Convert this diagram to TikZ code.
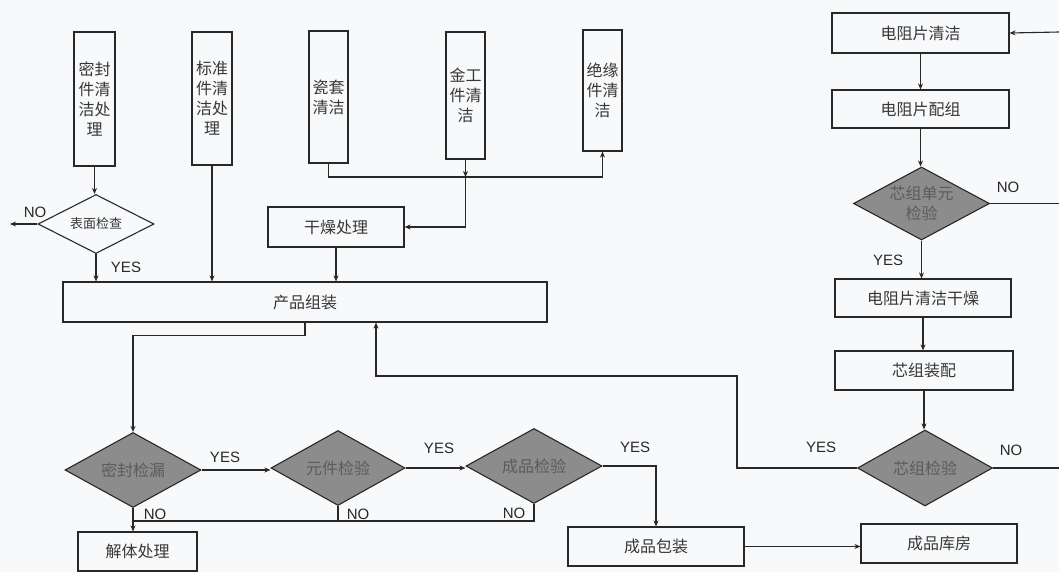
\documentclass[tikz,border=0pt]{standalone}
\usepackage{fontspec}
\setmainfont{Liberation Sans}
\newfontfamily\cjk{Noto Sans CJK SC}
\usetikzlibrary{shapes.geometric,arrows.meta}
\definecolor{bg}{RGB}{248,249,251}
\definecolor{ln}{RGB}{40,40,40}
\definecolor{dfill}{RGB}{140,140,140}
\definecolor{dtxt}{RGB}{92,92,92}
\definecolor{btxt}{RGB}{55,55,55}
\begin{document}
\begin{tikzpicture}[x=1pt,y=-1pt,
  box/.style={draw=ln,line width=1.1pt,inner sep=0pt,text=btxt,align=center,
    font=\cjk\fontsize{16}{20}\selectfont},
  gdia/.style={diamond,shape aspect=1.85,draw=ln,line width=1.1pt,fill=dfill,inner sep=0pt,text=dtxt,
    align=center,font=\cjk\fontsize{16}{20}\selectfont},
  wdia/.style={diamond,shape aspect=1.9,draw=ln,line width=1.1pt,fill=bg,inner sep=0pt,text=btxt,
    align=center,font=\cjk\fontsize{13}{17}\selectfont},
  conn/.style={draw=ln,line width=1.1pt},
  arr/.style={conn,-{Stealth[length=6pt,width=5pt]}},
  lab/.style={text=ln,inner sep=0pt,font=\fontsize{15}{15}\selectfont}]
\fill[bg] (0,0) rectangle (1059,572);
\useasboundingbox (0,0) rectangle (1059,572);

% top vertical boxes
\node[box,minimum width=41pt,minimum height=134pt] (mf) at (94.5,99) {密封\\件清\\洁处\\理};
\node[box,minimum width=40pt,minimum height=133pt] (bz) at (212,98.5) {标准\\件清\\洁处\\理};
\node[box,minimum width=39pt,minimum height=132pt] (ct) at (328.5,97) {瓷套\\清洁};
\node[box,minimum width=39pt,minimum height=127pt] (jg) at (465.5,95.5) {金工\\件清\\洁};
\node[box,minimum width=39pt,minimum height=121pt] (jy) at (602.5,90.5) {绝缘\\件清\\洁};

\node[wdia,minimum width=116pt,minimum height=59pt] (bm) at (96,224) {表面检查};
\node[box,minimum width=136pt,minimum height=40pt] (gz) at (336,227) {干燥处理};
\node[box,minimum width=484pt,minimum height=40pt] (cp) at (305,302) {产品组装};

% bottom row
\node[gdia,minimum width=136pt,minimum height=75pt] (mj) at (133,470) {密封检漏};
\node[gdia,minimum width=134pt,minimum height=75pt] (yj) at (338,468) {元件检验};
\node[gdia,minimum width=136pt,minimum height=75pt] (cj) at (534,466) {成品检验};
\node[box,minimum width=119pt,minimum height=39pt] (jt) at (137.5,551.5) {解体处理};
\node[box,minimum width=176pt,minimum height=39pt] (bzz) at (656,546.5) {成品包装};
\node[box,minimum width=156pt,minimum height=39pt] (kf) at (939,543.5) {成品库房};

% right column
\node[box,minimum width=177pt,minimum height=40pt] (d1) at (920.5,33) {电阻片清洁};
\node[box,minimum width=177pt,minimum height=38pt] (d2) at (920.5,109) {电阻片配组};
\node[gdia,minimum width=136pt,minimum height=73pt] (dx) at (921.5,203.5) {芯组单元\\检验};
\node[box,minimum width=176pt,minimum height=38pt] (d3) at (923,298) {电阻片清洁干燥};
\node[box,minimum width=178pt,minimum height=39pt] (d4) at (924,370.5) {芯组装配};
\node[gdia,minimum width=135pt,minimum height=76pt] (xj) at (925,468) {芯组检验};

% free-end coordinates
\coordinate (noL) at (10,224);
\coordinate (j1) at (465.5,177);
\coordinate (nb) at (133,521);
\coordinate (c2) at (737,376);
\coordinate (c3) at (376,376);
\coordinate (r1) at (1059,32);
\coordinate (r2) at (1059,203.5);
\coordinate (r3) at (1059,468);

% connectors, top left
\draw[arr] (mf.south) -- (mf.south |- bm.north);
\draw[arr] (bm.west) -- (noL);
\draw[arr] (bm.south) -- (bm.south |- cp.north);
\draw[arr] (bz.south) -- (bz.south |- cp.north);
\draw[arr] (ct.south) |- (j1) -| (jy.south);
\draw[arr] (jg.south) -- (j1);
\draw[arr] (j1) |- (gz.east);
\draw[arr] (gz.south) -- (gz.south |- cp.north);
\draw[arr] (cp.south) -- ++(0,13) -| (mj.north);

% bottom row connectors
\draw[arr] (mj.east) -- (mj.east -| yj.west);
\draw[arr] (yj.east) -- (yj.east -| cj.west);
\draw[arr] (cj.east) -| (bzz.north);
\draw[arr] (mj.south) -- (mj.south |- jt.north);
\draw[conn] (yj.south) |- (nb);
\draw[conn] (cj.south) |- (nb);
\draw[arr] (bzz.east) -- (bzz.east -| kf.west);

% right column connectors
\draw[arr] (r1) -- (d1.east);
\draw[arr] (d1.south) -- (d2.north);
\draw[arr] (d2.south) -- (d2.south |- dx.north);
\draw[conn] (dx.east) -- (r2);
\draw[arr] (dx.south) -- (dx.south |- d3.north);
\draw[arr] (d3.south) -- (d3.south |- d4.north);
\draw[arr] (d4.south) -- (d4.south |- xj.north);
\draw[arr] (xj.west) -| (c2) -- (c3) -- (c3 |- cp.south);
\draw[conn] (xj.east) -- (r3);

% labels
\node[lab] (l1) at (35,212) {NO};
\node[lab] (l2) at (126,267) {YES};
\node[lab] (l3) at (225,457) {YES};
\node[lab] (l4) at (439,448) {YES};
\node[lab] (l5) at (635,447) {YES};
\node[lab] (l6) at (155,514) {NO};
\node[lab] (l7) at (358,514) {NO};
\node[lab] (l8) at (514,513) {NO};
\node[lab] (l9) at (888,260) {YES};
\node[lab] (l10) at (1008,187) {NO};
\node[lab] (l11) at (821,447) {YES};
\node[lab] (l12) at (1011,450) {NO};
\end{tikzpicture}
\end{document}
